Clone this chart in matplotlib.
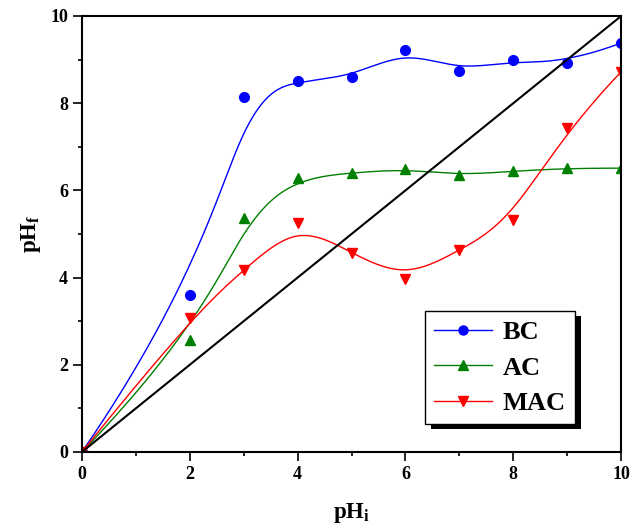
import numpy as np
import matplotlib.pyplot as plt
from matplotlib.patches import Rectangle
from matplotlib.ticker import MultipleLocator

plt.rcParams['font.family'] = ['Liberation Serif', 'DejaVu Serif']
plt.rcParams['font.weight'] = 'bold'
plt.rcParams['mathtext.fontset'] = 'custom'
plt.rcParams['mathtext.rm'] = 'Liberation Serif:bold'
plt.rcParams['mathtext.it'] = 'Liberation Serif:italic:bold'
plt.rcParams['mathtext.bf'] = 'Liberation Serif:bold'

# Data
ph_i = [0, 2, 3, 4, 5, 6, 7, 8, 9, 10]
bc = [0, 3.60, 8.14, 8.51, 8.60, 9.22, 8.74, 8.99, 8.92, 9.38]
ac = [0, 2.57, 5.37, 6.28, 6.40, 6.49, 6.35, 6.44, 6.51, 6.51]
mac = [0, 3.07, 4.17, 5.25, 4.56, 3.97, 4.63, 5.32, 7.43, 8.72]


def bspline(xs, ys, k=3, n=400):
    # clamped uniform B-spline using the data points as control points
    m = len(xs)
    knots = np.concatenate([np.zeros(k + 1), np.arange(1, m - k), np.full(k + 1, m - k)]).astype(float)
    t = np.linspace(0, m - k, n)
    N = np.zeros((n, len(knots) - 1))
    for i in range(len(knots) - 1):
        N[:, i] = (knots[i] <= t) & (t < knots[i + 1])
    N[-1, m - 1] = 1.0
    for d in range(1, k + 1):
        for i in range(len(knots) - 1 - d):
            a = knots[i + d] - knots[i]
            b = knots[i + d + 1] - knots[i + 1]
            left = (t - knots[i]) / a * N[:, i] if a > 0 else 0
            right = (knots[i + d + 1] - t) / b * N[:, i + 1] if b > 0 else 0
            N[:, i] = left + right
    B = N[:, :m]
    return B @ np.asarray(xs, float), B @ np.asarray(ys, float)


fig = plt.figure(figsize=(6.3, 5.26), dpi=100)
ax = fig.add_axes([0.130, 0.1407, 0.856, 0.8289])

series = [(bc, 'blue', 'o', 'BC'), (ac, 'green', '^', 'AC'), (mac, 'red', 'v', 'MAC')]
for ys, color, marker, label in series:
    sx, sy = bspline(ph_i, ys)
    ax.plot(sx, sy, color=color, lw=1.0)
    ax.plot(ph_i, ys, linestyle='none', marker=marker, color=color, markersize=7)
    ax.plot([], [], color=color, lw=1.0, marker=marker, markersize=6.5, label=label)

ax.plot([0, 10], [0, 10], color='black', lw=1.5)

ax.set_xlim(0, 10)
ax.set_ylim(0, 10)
ax.xaxis.set_major_locator(MultipleLocator(2))
ax.xaxis.set_minor_locator(MultipleLocator(1))
ax.yaxis.set_major_locator(MultipleLocator(2))
ax.yaxis.set_minor_locator(MultipleLocator(1))
ax.tick_params(which='major', direction='out', length=6.5, width=1.2, labelsize=13)
ax.tick_params(which='minor', direction='out', length=3.2, width=1.2)
for s in ax.spines.values():
    s.set_linewidth(1.5)

ax.set_xlabel('$\\mathbf{pH_i}$', fontsize=16.5, labelpad=13)
ax.set_ylabel('$\\mathbf{pH_f}$', fontsize=16.5, labelpad=5)

leg = ax.legend(loc='lower right', bbox_to_anchor=(0.915, 0.064), fontsize=19,
                frameon=True, fancybox=False, edgecolor='black', framealpha=1,
                handlelength=2.2, labelspacing=0.45, borderpad=0.35,
                handletextpad=0.4, borderaxespad=0)
leg.get_frame().set_linewidth(1.0)

# solid black drop shadow behind the legend box
fig.canvas.draw()
bb = leg.get_window_extent()
shadow = Rectangle((bb.x0 + 6, bb.y0 - 5), bb.width, bb.height, transform=None,
                   facecolor='black', edgecolor='none', clip_on=False,
                   zorder=leg.get_zorder() - 0.1)
ax.add_artist(shadow)

fig.savefig('out.png', dpi=100)
